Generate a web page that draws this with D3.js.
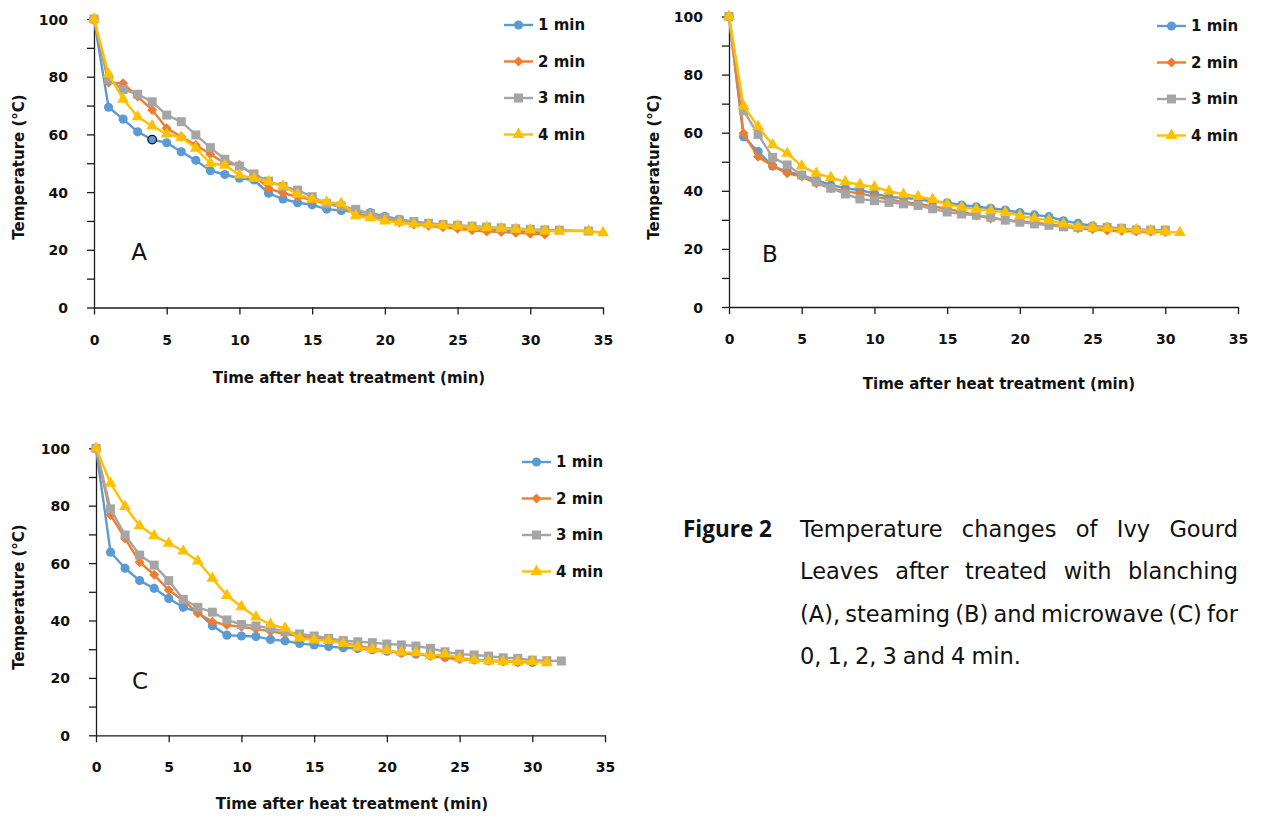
<!DOCTYPE html>
<html>
<head>
<meta charset="utf-8">
<script src="https://cdn.jsdelivr.net/npm/d3@7"></script>
<style>
  body { margin: 0; background: #fff; }
  text { font-family: "DejaVu Sans", sans-serif; fill: #111; }
</style>
</head>
<body>
<svg id="fig" width="1263" height="818"></svg>
<script>
// ---- data ----
const seriesNames = ["1 min", "2 min", "3 min", "4 min"];
const yTicks = [0, 10, 20, 30, 40, 50, 60, 70, 80, 90, 100];
const xTicks = [0, 5, 10, 15, 20, 25, 30, 35];

// A: blanching
const timeA1 = [0,1,2,3,4,5,6,7,8,9,10,11,12,13,14,15,16,17,18,19,20,21,22,23,24,25,26,27,28,29,30,31];
const tempA1 = [100,69.4,65.3,60.9,58.2,57.1,54,51,47.4,46.1,44.8,44.2,39.6,37.6,36.3,35.6,34.1,33.6,33.2,32.9,31.6,30.6,29.6,29,28.5,28,27.6,27.2,26.8,26.5,26.3,26];
const timeA2 = [0,1,2,3,4,5,6,7,8,9,10,11,12,13,14,15,16,17,18,19,20,21,22,23,24,25,26,27,28,29,30,31];
const tempA2 = [100,78,77.7,73.1,68.5,62.1,59.2,56.3,53.1,50,49.4,45.9,41.3,39.6,38.4,37.3,35.9,34.9,32.6,31.5,30.5,29.5,28.8,28.3,27.8,27.3,26.8,26.3,26.2,25.9,25.6,25.3];
const timeA3 = [0,1,2,3,4,5,6,7,8,9,10,11,12,13,14,15,16,17,18,19,20,21,22,23,24,25,26,27,28,29,30,31,32,34];
const tempA3 = [100,79,75.6,73.9,71.3,66.7,64.4,59.8,55.4,51.4,49,46.3,43.8,42,40.7,38.4,36,35.2,34,32.5,31.2,30.3,29.8,29.2,28.8,28.5,28.2,27.9,27.6,27.3,27.1,26.9,26.8,26.5];
const timeA4 = [0,1,2,3,4,5,6,7,8,9,10,11,12,13,14,15,16,17,18,19,20,21,22,23,24,25,26,27,28,29,30,31,32,34,35];
const tempA4 = [100,80.9,72.2,66.1,62.9,60.1,59,55.2,50,49.3,45.9,44.8,43.6,42.1,39.2,37.5,36.5,36.1,31.8,31.1,30,29.5,28.9,28.7,28.4,28.2,27.8,27.7,27.4,27.1,26.9,26.5,26.5,26.5,25.9];

// B: steaming
const timeB1 = [0,1,2,3,4,5,6,7,8,9,10,11,12,13,14,15,16,17,18,19,20,21,22,23,24,25,26,27,28,29,30];
const tempB1 = [100,58.6,53.5,48.5,46.6,45.4,43.7,42,40.9,40.2,39.1,37.8,37.6,37.1,36.3,35.9,35.1,34.5,34,33.4,32.5,31.7,31.1,29.7,28.8,27.9,27.5,26.9,26.7,26.4,26.2];
const timeB2 = [0,1,2,3,4,5,6,7,8,9,10,11,12,13,14,15,16,17,18,19,20,21,22,23,24,25,26,27,28,29,30];
const tempB2 = [100,59.8,51.7,48.6,46,44.9,42.6,40.9,39.8,39.1,38,37,36.2,35.5,34.7,33.8,32.8,31.5,30.5,30,29.5,29,28.5,27.8,27,26.8,26.3,26.2,26,25.9,25.8];
const timeB3 = [0,1,2,3,4,5,6,7,8,9,10,11,12,13,14,15,16,17,18,19,20,21,22,23,24,25,26,27,28,29,30];
const tempB3 = [100,67.6,59.4,51.5,48.9,45.4,43.1,40.9,38.9,37.2,36.6,36,35.5,34.9,33.8,32.7,32,31.6,30.9,29.9,29.2,28.6,28.1,27.6,27.4,27.4,27.4,27.1,26.5,26.5,26.5];
const timeB4 = [0,1,2,3,4,5,6,7,8,9,10,11,12,13,14,15,16,17,18,19,20,21,22,23,24,25,26,27,28,29,30,31];
const tempB4 = [100,69.2,62.1,55.8,52.9,48.5,46,44.6,43.1,42.1,41.3,39.9,38.8,38,37,35.4,34.4,33.6,33.2,32.6,31.4,30.5,29.9,28.6,27.6,27.3,27.1,26.7,26.5,26.2,25.9,25.6];

// C: microwave
const timeC1 = [0,1,2,3,4,5,6,7,8,9,10,11,12,13,14,15,16,17,18,19,20,21,22,23,24,25,26,27,28,29,30];
const tempC1 = [100,63.8,58.2,53.9,51.2,47.7,44.6,43,38.2,34.9,34.6,34.4,33.4,32.9,32,31.5,30.9,30.5,30.2,29.8,29.3,28.8,28.3,27.8,27.3,26.8,26.4,26,25.8,25.5,25.4];
const timeC2 = [0,1,2,3,4,5,6,7,8,9,10,11,12,13,14,15,16,17,18,19,20,21,22,23,24,25,26,27,28,29,30];
const tempC2 = [100,76.8,68.6,60.3,55.9,50.6,47,42.5,39.6,38.4,37.8,37,36.2,35.4,34.6,33.8,33,32.2,31.2,30.2,29.5,28.6,28.4,27.6,27,26.5,26.2,26,25.8,25.6,25.5];
const timeC3 = [0,1,2,3,4,5,6,7,8,9,10,11,12,13,14,15,16,17,18,19,20,21,22,23,24,25,26,27,28,29,30,31,32];
const tempC3 = [100,78.9,69.8,62.8,59.3,53.9,47.4,44.6,42.9,40.2,38.6,38.1,37.3,36.1,35.3,34.6,33.8,33,32.6,32.3,31.8,31.5,31.1,30.3,29.1,28.3,28,27.6,27,26.8,26.2,26,25.9];
const timeC4 = [0,1,2,3,4,5,6,7,8,9,10,11,12,13,14,15,16,17,18,19,20,21,22,23,24,25,26,27,28,29,30,31];
const tempC4 = [100,87.8,79.7,73,69.5,66.9,64.2,60.7,54.7,48.7,44.8,41.2,38.6,37.3,33.9,33.2,33,32,30.7,30,29.5,28.9,28.8,27.7,28.3,26.8,26.2,25.9,25.7,25.7,25.7,25.3];

const captionLabel = "Figure 2";
const captionLines = [
  "Temperature changes of Ivy Gourd",
  "Leaves after treated with blanching",
  "(A), steaming (B) and microwave (C) for",
  "0, 1, 2, 3 and 4 min."
];

// ---- styles ----
const colors = ["#5B9BD5", "#ED7D31", "#A5A5A5", "#FFC000"];
const diamond = { draw(ctx, size) { const r = Math.sqrt(size) / 2; ctx.moveTo(0, -r); ctx.lineTo(r, 0); ctx.lineTo(0, r); ctx.lineTo(-r, 0); ctx.closePath(); } };
const shapes = [d3.symbolCircle, diamond, d3.symbolSquare, d3.symbolTriangle];
const sizes = [66, 100, 81, 62];

const svg = d3.select("#fig");
svg.append("rect").attr("width", 1263).attr("height", 818).attr("fill", "#fff");

function drawPanel(p) {
  const x = d3.scaleLinear().domain([0, 35]).range([p.left, p.right]);
  const y = d3.scaleLinear().domain([0, 100]).range([p.bottom, p.top]);
  const g = svg.append("g");

  // axes
  const yAxis = d3.axisLeft(y).tickValues(yTicks).tickSize(7).tickSizeOuter(0)
    .tickFormat(d => d % 20 === 0 ? d : "");
  const ga = g.append("g").attr("transform", `translate(${p.left},0)`).call(yAxis);
  ga.selectAll("text").attr("x", -26).attr("dy", "0.36em")
    .style("font-size", "14px").style("font-weight", "bold").style("font-family", '"DejaVu Sans", sans-serif');
  const xAxis = d3.axisBottom(x).tickValues(xTicks).tickSize(7).tickSizeOuter(0);
  const gb = g.append("g").attr("transform", `translate(0,${p.bottom})`).call(xAxis);
  gb.selectAll("text").attr("y", 32).attr("dy", "0.36em")
    .style("font-size", "14px").style("font-weight", "bold").style("font-family", '"DejaVu Sans", sans-serif');
  g.selectAll(".domain, .tick line").attr("stroke", "#1a1a1a").attr("stroke-width", 1.3);

  // axis titles
  g.append("text").attr("x", p.xTitle[0]).attr("y", p.xTitle[1]).attr("text-anchor", "middle")
    .attr("dy", "0.36em").style("font-size", "15px").style("font-weight", "bold")
    .text("Time after heat treatment (min)");
  g.append("text").attr("transform", `translate(${p.yTitle[0]},${p.yTitle[1]}) rotate(-90)`)
    .attr("text-anchor", "middle").attr("dy", "0.36em").style("font-size", "15px").style("font-weight", "bold")
    .text("Temperature (\u00B0C)");

  // panel letter
  g.append("text").attr("x", p.letterPos[0]).attr("y", p.letterPos[1]).attr("text-anchor", "middle")
    .attr("dy", "0.36em").style("font-size", "23px").text(p.letter);

  // series
  const line = d3.line().x(d => x(d[0])).y(d => y(d[1]));
  p.series.forEach((s, i) => {
    const pts = s.t.map((t, k) => [t, s.v[k]]);
    g.append("path").datum(pts).attr("d", line).attr("fill", "none")
      .attr("stroke", colors[i]).attr("stroke-width", 2.4).attr("stroke-linejoin", "round");
    g.selectAll(null).data(pts).enter().append("path")
      .attr("transform", d => `translate(${x(d[0])},${y(d[1])})`)
      .attr("d", d3.symbol().type(shapes[i]).size(sizes[i]))
      .attr("fill", colors[i]);
  });

  // selected point outline (as in the source figure)
  if (p.selected) {
    g.append("circle").attr("cx", x(p.selected[0])).attr("cy", y(p.selected[1])).attr("r", 4.3)
      .attr("fill", colors[0]).attr("stroke", "#111").attr("stroke-width", 1.2);
  }

  // legend
  seriesNames.forEach((name, i) => {
    const ly = p.legend.y + i * 36.5;
    g.append("line").attr("x1", p.legend.x).attr("x2", p.legend.x + 29).attr("y1", ly).attr("y2", ly)
      .attr("stroke", colors[i]).attr("stroke-width", 2.4);
    g.append("path").attr("transform", `translate(${p.legend.x + 14.5},${ly})`)
      .attr("d", d3.symbol().type(shapes[i]).size(sizes[i])).attr("fill", colors[i]);
    g.append("text").attr("x", p.legend.x + 34).attr("y", ly).attr("dy", "0.36em")
      .style("font-size", "15px").style("font-weight", "bold").text(name);
  });
}

drawPanel({
  left: 94, right: 603, top: 19, bottom: 307.5,
  xTitle: [349, 378], yTitle: [19, 167], letter: "A", letterPos: [139, 252],
  legend: { x: 504, y: 25 }, selected: [timeA1[4], tempA1[4]],
  series: [{ t: timeA1, v: tempA1 }, { t: timeA2, v: tempA2 }, { t: timeA3, v: tempA3 }, { t: timeA4, v: tempA4 }]
});
drawPanel({
  left: 729, right: 1238, top: 16.5, bottom: 307,
  xTitle: [999, 384], yTitle: [654, 167], letter: "B", letterPos: [770, 254],
  legend: { x: 1157, y: 26 },
  series: [{ t: timeB1, v: tempB1 }, { t: timeB2, v: tempB2 }, { t: timeB3, v: tempB3 }, { t: timeB4, v: tempB4 }]
});
drawPanel({
  left: 96, right: 605, top: 448.3, bottom: 735.3,
  xTitle: [352, 804], yTitle: [19, 597], letter: "C", letterPos: [140, 681],
  legend: { x: 522, y: 462 },
  series: [{ t: timeC1, v: tempC1 }, { t: timeC2, v: tempC2 }, { t: timeC3, v: tempC3 }, { t: timeC4, v: tempC4 }]
});

// caption, justified like the source
const cap = svg.append("g").style("font-family", '"Open Sans", "Noto Sans", sans-serif');
cap.append("text").attr("x", 683).attr("y", 537).style("font-size", "22.5px").style("font-weight", "bold")
  .style("font-family", '"Open Sans", sans-serif').text(captionLabel);
const capLeft = 800, capRight = 1238;
captionLines.forEach((ln, i) => {
  const by = 537 + i * 42.3;
  const words = ln.split(" ");
  const tmp = cap.append("g");
  const nodes = words.map(w => tmp.append("text").attr("y", by).style("font-size", "22.5px").text(w));
  const widths = nodes.map(n => n.node().getComputedTextLength());
  const total = d3.sum(widths);
  const last = i === captionLines.length - 1;
  const gap = last ? 6 : (capRight - capLeft - total) / (words.length - 1);
  let cx = capLeft;
  nodes.forEach((n, k) => { n.attr("x", cx); cx += widths[k] + gap; });
});
</script>
</body>
</html>
